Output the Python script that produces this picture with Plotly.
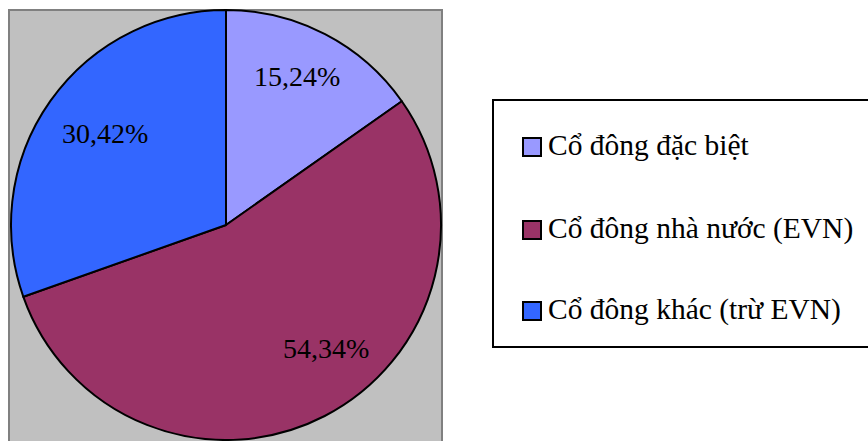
import plotly.graph_objects as go

# Shareholder structure
labels = ["Cổ đông đặc biệt", "Cổ đông nhà nước (EVN)", "Cổ đông khác (trừ EVN)"]
values = [15.24, 54.34, 30.42]
colors = ["#9999FF", "#993366", "#3366FF"]

# label anchor points (pixels) inside each slice
label_pos = [(297, 76), (326, 348), (105, 133)]
# legend row centres (pixels)
legend_rows = [147, 230, 311]

W, H = 868, 441
FONT = "'Times New Roman', 'Liberation Serif', 'DejaVu Serif', serif"


def px(x):
    return x / W


def py(y):
    return 1 - y / H


def fmt(v):
    return f"{v:.2f}".replace(".", ",") + "%"


fig = go.Figure()

fig.add_trace(go.Pie(
    labels=labels,
    values=values,
    sort=False,
    direction="clockwise",
    rotation=0,
    marker=dict(colors=colors, line=dict(color="black", width=2)),
    textinfo="none",
    hoverinfo="label+percent",
    showlegend=False,
    domain=dict(x=[px(11), px(441)], y=[py(440), py(10)]),
))

shapes = [
    # grey plot area
    dict(type="rect", xref="paper", yref="paper",
         x0=px(9), x1=px(442), y0=py(460), y1=py(10),
         fillcolor="#C0C0C0", line=dict(color="#808080", width=2),
         layer="below"),
    # legend frame
    dict(type="rect", xref="paper", yref="paper",
         x0=px(493), x1=px(890), y0=py(347), y1=py(100),
         fillcolor="white", line=dict(color="black", width=2),
         layer="below"),
]

annotations = []
for v, (x, y) in zip(values, label_pos):
    annotations.append(dict(
        x=px(x), y=py(y), xref="paper", yref="paper",
        text=fmt(v), showarrow=False, xanchor="center", yanchor="middle",
        font=dict(family=FONT, size=28, color="black"),
    ))

for lab, col, yc in zip(labels, colors, legend_rows):
    shapes.append(dict(
        type="rect", xref="paper", yref="paper",
        x0=px(523), x1=px(541), y0=py(yc + 9), y1=py(yc - 9),
        fillcolor=col, line=dict(color="black", width=2),
    ))
    annotations.append(dict(
        x=px(546), y=py(yc - 2), xref="paper", yref="paper",
        text=lab, showarrow=False, xanchor="left", yanchor="middle",
        font=dict(family=FONT, size=29.5, color="black"),
    ))

fig.update_layout(
    width=W, height=H,
    margin=dict(l=0, r=0, t=0, b=0),
    paper_bgcolor="white",
    plot_bgcolor="white",
    shapes=shapes,
    annotations=annotations,
    showlegend=False,
)

fig.write_html("out.html")
